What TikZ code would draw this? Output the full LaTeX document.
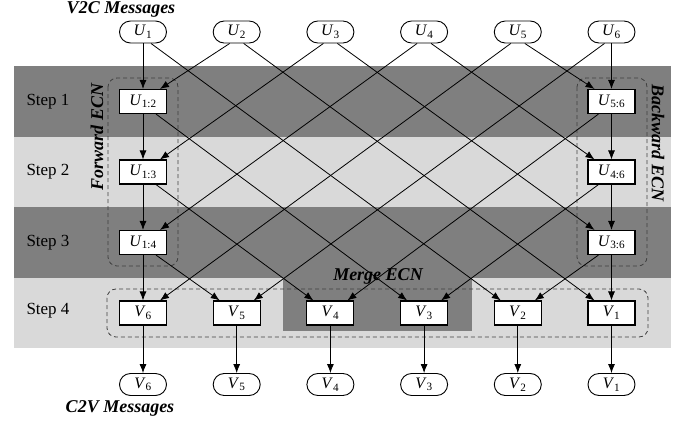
\documentclass[tikz,border=0pt]{standalone}
\usepackage{fontspec}
\setmainfont{Liberation Serif}
\usetikzlibrary{arrows.meta}
\definecolor{darkband}{HTML}{7F7F7F}
\definecolor{lightband}{HTML}{D9D9D9}
\begin{document}
\begin{tikzpicture}[x=1pt,y=-1pt,
  oval/.style={draw, line width=0.9pt, rounded corners=11pt, minimum width=47pt, minimum height=22pt, inner sep=0pt, fill=white, font=\fontsize{16}{16}\selectfont},
  box/.style={draw, line width=1.1pt, fill=white, minimum width=47pt, minimum height=24pt, inner sep=0pt, font=\fontsize{16}{16}\selectfont},
  arr/.style={-{Latex[length=9pt,width=7pt]}, line width=0.8pt},
  ecn/.style={draw=black!75, dash pattern=on 4pt off 3pt, rounded corners=9pt, line width=0.8pt},
  steplbl/.style={font=\fontsize{17}{17}\selectfont},
  ttl/.style={font=\fontsize{18}{18}\selectfont\bfseries\itshape, inner sep=0pt}
]
\useasboundingbox (0,0) rectangle (689,424);
% bands
\fill[darkband] (14,66) rectangle (671,137);
\fill[lightband] (14,137) rectangle (671,207);
\fill[darkband] (14,207) rectangle (671,278);
\fill[lightband] (14,278) rectangle (671,348);
\fill[darkband] (283,277) rectangle (472,331);
% step labels
\node[steplbl] (s1) at (48,101.5) {Step 1};
\node[steplbl] (s2) at (48,172) {Step 2};
\node[steplbl] (s3) at (48,242.5) {Step 3};
\node[steplbl] (s4) at (48,311) {Step 4};
% dashed ECN frames
\draw[ecn] (108,78) rectangle (178,266);
\draw[ecn] (577,78) rectangle (647,266);
\draw[ecn] (107,289) rectangle (648,337);
% top ovals
\node[oval] (u1) at (143,32) {\textit{U}\textsubscript{1}};
\node[oval] (u2) at (236.7,32) {\textit{U}\textsubscript{2}};
\node[oval] (u3) at (330.4,32) {\textit{U}\textsubscript{3}};
\node[oval] (u4) at (424.1,32) {\textit{U}\textsubscript{4}};
\node[oval] (u5) at (517.8,32) {\textit{U}\textsubscript{5}};
\node[oval] (u6) at (611.5,32) {\textit{U}\textsubscript{6}};
% forward boxes
\node[box] (f2) at (143,101.5) {\textit{U}\textsubscript{1:2}};
\node[box] (f3) at (143,172) {\textit{U}\textsubscript{1:3}};
\node[box] (f4) at (143,242.5) {\textit{U}\textsubscript{1:4}};
% backward boxes
\node[box] (b5) at (611.5,101.5) {\textit{U}\textsubscript{5:6}};
\node[box] (b4) at (611.5,172) {\textit{U}\textsubscript{4:6}};
\node[box] (b3) at (611.5,242.5) {\textit{U}\textsubscript{3:6}};
% merge boxes
\node[box] (v6) at (143,313) {\textit{V}\textsubscript{6}};
\node[box] (v5) at (236.7,313) {\textit{V}\textsubscript{5}};
\node[box] (v4) at (330.4,313) {\textit{V}\textsubscript{4}};
\node[box] (v3) at (424.1,313) {\textit{V}\textsubscript{3}};
\node[box] (v2) at (517.8,313) {\textit{V}\textsubscript{2}};
\node[box] (v1) at (611.5,313) {\textit{V}\textsubscript{1}};
% bottom ovals
\node[oval] (o6) at (143,384.5) {\textit{V}\textsubscript{6}};
\node[oval] (o5) at (236.7,384.5) {\textit{V}\textsubscript{5}};
\node[oval] (o4) at (330.4,384.5) {\textit{V}\textsubscript{4}};
\node[oval] (o3) at (424.1,384.5) {\textit{V}\textsubscript{3}};
\node[oval] (o2) at (517.8,384.5) {\textit{V}\textsubscript{2}};
\node[oval] (o1) at (611.5,384.5) {\textit{V}\textsubscript{1}};
% forward chain
\draw[arr] (u1.south) -- (f2.north);
\draw[arr] ([xshift=-7pt]u2.south) -- ([xshift=17pt]f2.north);
\draw[arr] (f2.south) -- (f3.north);
\draw[arr] ([xshift=-7pt]u3.south) -- ([xshift=17pt]f3.north);
\draw[arr] (f3.south) -- (f4.north);
\draw[arr] ([xshift=-7pt]u4.south) -- ([xshift=17pt]f4.north);
\draw[arr] (f4.south) -- (v6.north);
\draw[arr] ([xshift=-7pt]u5.south) -- ([xshift=17pt]v6.north);
% backward chain
\draw[arr] (u6.south) -- (b5.north);
\draw[arr] ([xshift=7pt]u5.south) -- ([xshift=-17pt]b5.north);
\draw[arr] (b5.south) -- (b4.north);
\draw[arr] ([xshift=7pt]u4.south) -- ([xshift=-17pt]b4.north);
\draw[arr] (b4.south) -- (b3.north);
\draw[arr] ([xshift=7pt]u3.south) -- ([xshift=-17pt]b3.north);
\draw[arr] (b3.south) -- (v1.north);
\draw[arr] ([xshift=7pt]u2.south) -- ([xshift=-17pt]v1.north);
% merge
\draw[arr] ([xshift=8pt]u1.south) -- ([xshift=-17pt]v2.north);
\draw[arr] ([xshift=-13pt]b3.south) -- ([xshift=17pt]v2.north);
\draw[arr] ([xshift=13pt]f2.south) -- ([xshift=-17pt]v3.north);
\draw[arr] ([xshift=-13pt]b4.south) -- ([xshift=17pt]v3.north);
\draw[arr] ([xshift=13pt]f3.south) -- ([xshift=-17pt]v4.north);
\draw[arr] ([xshift=-13pt]b5.south) -- ([xshift=17pt]v4.north);
\draw[arr] ([xshift=13pt]f4.south) -- ([xshift=-17pt]v5.north);
\draw[arr] ([xshift=-7pt]u6.south) -- ([xshift=17pt]v5.north);
% outputs
\draw[arr] (v6.south) -- (o6.north);
\draw[arr] (v5.south) -- (o5.north);
\draw[arr] (v4.south) -- (o4.north);
\draw[arr] (v3.south) -- (o3.north);
\draw[arr] (v2.south) -- (o2.north);
\draw[arr] (v1.south) -- (o1.north);
% titles
\node[ttl] (tv2c) at (121,9) {V2C Messages};
\node[ttl] (tc2v) at (120,408) {C2V Messages};
\node[ttl] (tmerge) at (378,276) {Merge ECN};
\node[ttl, rotate=90] (tfwd) at (97,137) {Forward ECN};
\node[ttl, rotate=-90] (tbwd) at (658,143) {Backward ECN};
\end{tikzpicture}
\end{document}
